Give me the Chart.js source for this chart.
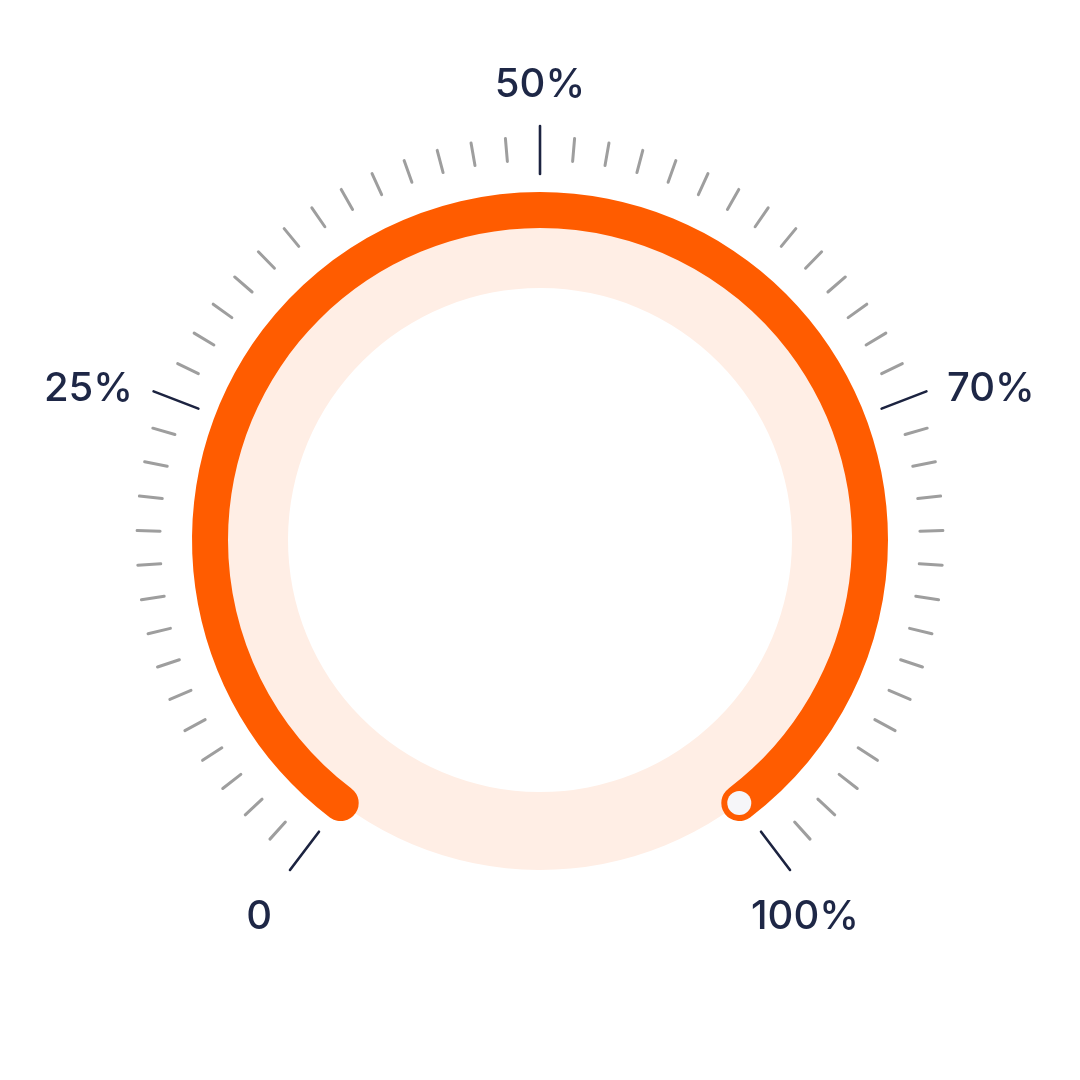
<!DOCTYPE html>
<html>
<head>
<meta charset="utf-8">
<style>
  html, body { margin: 0; padding: 0; background: #ffffff; }
  #wrap { width: 1080px; height: 1080px; position: relative; }
  canvas { display: block; }
</style>
</head>
<body>
<div id="wrap"><canvas id="c" width="1080" height="1080"></canvas></div>
<script src="https://cdn.jsdelivr.net/npm/chart.js@4.4.1/dist/chart.umd.min.js"></script>
<script>
// ---------- data ----------
const gaugeMin = 0;
const gaugeMax = 100;
const gaugeValue = 100;
const tickIntervals = 58;                     // number of minor tick steps along the dial
const majorTickIndex = [0, 15, 29, 43, 58];   // which tick steps are major
const majorTickLabels = ['0', '25%', '50%', '70%', '100%'];

// ---------- layout / style ----------
const START_DEG = 127.15;   // canvas angle (clockwise from 3 o'clock) of the dial start
const SWEEP_DEG = 285.7;    // dial sweep
const ORANGE = '#FF5C00';
const PEACH = '#FFEEE5';
const NAVY = '#1E2746';
const TICK_GRAY = '#9E9E9E';
const ARC_OUT = 348, ARC_IN = 312;           // orange band
const RING_OUT = 330, RING_IN = 252;         // peach band
const CAP_R = (ARC_OUT - ARC_IN) / 2;
const CAP_DEG = (CAP_R / ((ARC_OUT + ARC_IN) / 2)) * 180 / Math.PI;
const FONT_PX = 40;

// ring geometry with Chart.js weights (each dataset weight 1, two datasets)
const ds0Outer = ARC_OUT;
const ds0Inner = ARC_OUT - 2 * (ARC_OUT - ARC_IN);
const ds1Len = RING_OUT - RING_IN;
const ds1Outer = RING_OUT + ds1Len;
const ds1Inner = RING_IN;

const gaugeDecor = {
  id: 'gaugeDecor',
  afterDatasetsDraw(chart) {
    const ctx = chart.ctx;
    const ringArc = chart.getDatasetMeta(1).data[0];
    const cx = ringArc.x, cy = ringArc.y;
    const a0 = START_DEG * Math.PI / 180;
    const sweep = SWEEP_DEG * Math.PI / 180;
    const angleAt = (step) => a0 + sweep * step / tickIntervals;

    ctx.save();
    ctx.lineCap = 'round';
    // ticks
    for (let i = 0; i <= tickIntervals; i++) {
      const major = majorTickIndex.includes(i);
      const a = angleAt(i);
      const r1 = major ? 366 : 380;
      const r2 = major ? 414 : 403;
      ctx.beginPath();
      ctx.moveTo(cx + r1 * Math.cos(a), cy + r1 * Math.sin(a));
      ctx.lineTo(cx + r2 * Math.cos(a), cy + r2 * Math.sin(a));
      ctx.strokeStyle = major ? '#1C2340' : TICK_GRAY;
      ctx.lineWidth = major ? 2.6 : 3;
      ctx.stroke();
    }
    // labels
    ctx.fillStyle = NAVY;
    ctx.font = '500 ' + FONT_PX + 'px Inter, "Noto Sans", sans-serif';
    ctx.textBaseline = 'alphabetic';
    majorTickIndex.forEach((ti, k) => {
      const a = angleAt(ti);
      const c = Math.cos(a), s = Math.sin(a);
      let r, align, dy, dx = 0;
      if (s < -0.9) { r = 443; align = 'center'; dy = 0; }
      else if (Math.abs(c) > 0.85) { r = 436; align = c < 0 ? 'right' : 'left'; dy = 0.45 * FONT_PX; }
      else { r = 452; align = 'center'; dy = 0.73 * FONT_PX; dx = -8; }
      ctx.textAlign = align;
      ctx.fillText(majorTickLabels[k], cx + r * c + dx, cy + r * s + dy);
    });
    // value handle
    const ctrl = chart.getDatasetMeta(0).controller;
    const rm = (ctrl.outerRadius + ctrl.innerRadius) / 2;
    const av = a0 + sweep * (gaugeValue - gaugeMin) / (gaugeMax - gaugeMin);
    ctx.beginPath();
    ctx.arc(cx + rm * Math.cos(av), cy + rm * Math.sin(av), 12, 0, Math.PI * 2);
    ctx.fillStyle = '#F6F6F9';
    ctx.fill();
    ctx.restore();
  }
};

new Chart(document.getElementById('c'), {
  type: 'doughnut',
  data: {
    labels: ['value', 'rest'],
    datasets: [
      {
        data: [gaugeValue - gaugeMin, gaugeMax - gaugeValue],
        backgroundColor: [ORANGE, 'rgba(0,0,0,0)'],
        borderWidth: 0,
        borderRadius: CAP_R,
        rotation: START_DEG - CAP_DEG + 90,
        circumference: SWEEP_DEG + 2 * CAP_DEG,
        radius: ds0Outer,
        cutout: (ds0Inner / ds0Outer * 100) + '%'
      },
      {
        data: [gaugeMax - gaugeMin],
        backgroundColor: [PEACH],
        borderWidth: 0,
        rotation: START_DEG - CAP_DEG + 90,
        circumference: 360,
        radius: ds1Outer,
        cutout: (ds1Inner / ds1Outer * 100) + '%'
      }
    ]
  },
  options: {
    responsive: false,
    animation: false,
    events: [],
    layout: { padding: 0 },
    plugins: { legend: { display: false }, tooltip: { enabled: false } }
  },
  plugins: [gaugeDecor]
});
</script>
</body>
</html>
